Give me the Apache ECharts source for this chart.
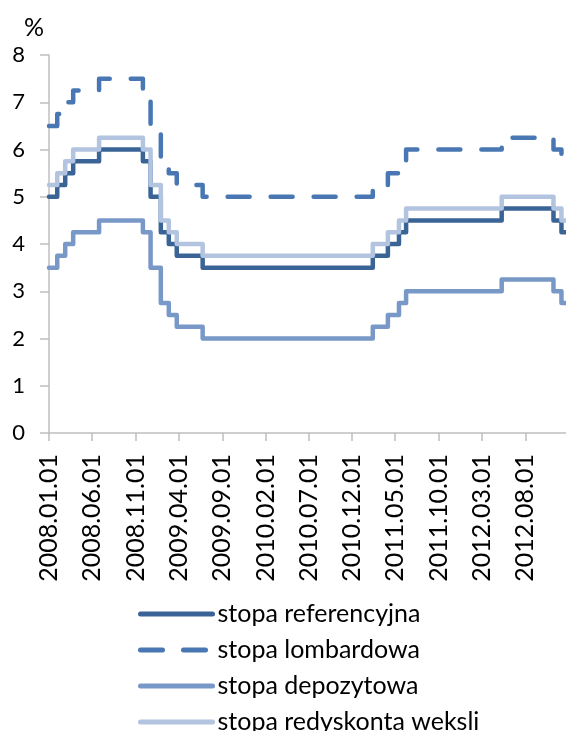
<!DOCTYPE html>
<html>
<head>
<meta charset="utf-8">
<script src="https://cdn.jsdelivr.net/npm/echarts@6/dist/echarts.min.js"></script>
<style>
html,body{margin:0;padding:0;background:#fff;}
#chart{width:566px;height:731px;}
</style>
</head>
<body>
<div id="chart"></div>
<script>
// Change dates (step starts); last entry closes the plot
var changeDates = ['2008-01-01','2008-01-30','2008-02-27','2008-03-26','2008-06-25','2008-11-26','2008-12-23',
  '2009-01-28','2009-02-25','2009-03-25','2009-06-24','2011-02-12','2011-04-06','2011-05-15','2011-06-09',
  '2012-05-10','2012-11-08','2012-12-06','2012-12-22'];
var stopaReferencyjna = [5.0,5.25,5.5,5.75,6.0,5.75,5.0,4.25,4.0,3.75,3.5,3.75,4.0,4.25,4.5,4.75,4.5,4.25,4.25];
var stopaLombardowa   = [6.5,6.75,7.0,7.25,7.5,7.25,6.5,5.75,5.5,5.25,5.0,5.25,5.5,5.75,6.0,6.25,6.0,5.75,5.75];
var stopaDepozytowa   = [3.5,3.75,4.0,4.25,4.5,4.25,3.5,2.75,2.5,2.25,2.0,2.25,2.5,2.75,3.0,3.25,3.0,2.75,2.75];
var stopaRedyskonta   = [5.25,5.5,5.75,6.0,6.25,6.0,5.25,4.5,4.25,4.0,3.75,4.0,4.25,4.5,4.75,5.0,4.75,4.5,4.5];
var seriesNames = ['stopa referencyjna','stopa lombardowa','stopa depozytowa','stopa redyskonta weksli'];
var tickLabels = ['2008.01.01','2008.06.01','2008.11.01','2009.04.01','2009.09.01','2010.02.01',
  '2010.07.01','2010.12.01','2011.05.01','2011.10.01','2012.03.01','2012.08.01'];
var yTicks = [0,1,2,3,4,5,6,7,8];

function toTs(s){
  var p = s.split(/[-.]/);
  return Date.UTC(+p[0], +p[1]-1, +p[2]);
}
var tickValues = tickLabels.map(toTs);
function pairs(vals){
  return changeDates.map(function(d,i){ return [toTs(d), vals[i]]; });
}
var FONT = 'Lato';
var chart = echarts.init(document.getElementById('chart'), null, {renderer:'canvas'});
function lineSeries(name, vals, color, dashed){
  return {
    name: name, type: 'line', step: 'end', data: pairs(vals),
    showSymbol: false, symbol: 'none', animation: false,
    lineStyle: {color: color, width: 4.5, type: dashed ? [22, 21] : 'solid', cap: 'round', join: 'round'},
    itemStyle: {color: color}
  };
}
chart.setOption({
  animation: false,
  textStyle: {fontFamily: FONT},
  title: {text: '%', left: 19, top: 10, textStyle: {fontFamily: FONT, fontSize: 25, fontWeight: 'normal', color: '#000'}},
  grid: {left: 49, right: 0, top: 55, bottom: 298, containLabel: false},
  xAxis: {
    type: 'value',
    min: toTs(changeDates[0]),
    max: toTs(changeDates[changeDates.length-1]),
    axisLine: {lineStyle: {color: '#BFBFBF', width: 1.5}},
    axisTick: {show: true, length: 8, inside: false, lineStyle: {color: '#BFBFBF', width: 1.5}, customValues: tickValues},
    axisLabel: {
      customValues: tickValues,
      rotate: 90, margin: 21, color: '#000', fontFamily: FONT, fontSize: 25,
      formatter: function(v){
        var i = tickValues.indexOf(v);
        return i >= 0 ? tickLabels[i] : '';
      }
    },
    splitLine: {show: false}
  },
  yAxis: {
    type: 'value', min: yTicks[0], max: yTicks[yTicks.length-1], interval: 1,
    axisLine: {show: true, lineStyle: {color: '#BFBFBF', width: 1.5}},
    axisTick: {show: true, length: 9, lineStyle: {color: '#BFBFBF', width: 1.5}},
    axisLabel: {color: '#000', fontFamily: FONT, fontSize: 22, margin: 24},
    splitLine: {show: false}
  },
  legend: {
    orient: 'vertical', left: 133, top: 594, height: 400,
    itemWidth: 72, itemHeight: 14, itemGap: 6,
    data: seriesNames,
    itemStyle: {color: 'rgba(0,0,0,0)', borderWidth: 0, opacity: 0},
    lineStyle: {width: 5, cap: 'round'},
    textStyle: {fontFamily: FONT, fontSize: 25, color: '#000', lineHeight: 30, padding: [0,0,0,0]},
    selectedMode: false
  },
  series: [
    lineSeries(seriesNames[0], stopaReferencyjna, '#3B6496', false),
    lineSeries(seriesNames[1], stopaLombardowa, '#4877B4', true),
    lineSeries(seriesNames[2], stopaDepozytowa, '#7898C8', false),
    lineSeries(seriesNames[3], stopaRedyskonta, '#B2C4DF', false)
  ]
});
</script>
</body>
</html>
